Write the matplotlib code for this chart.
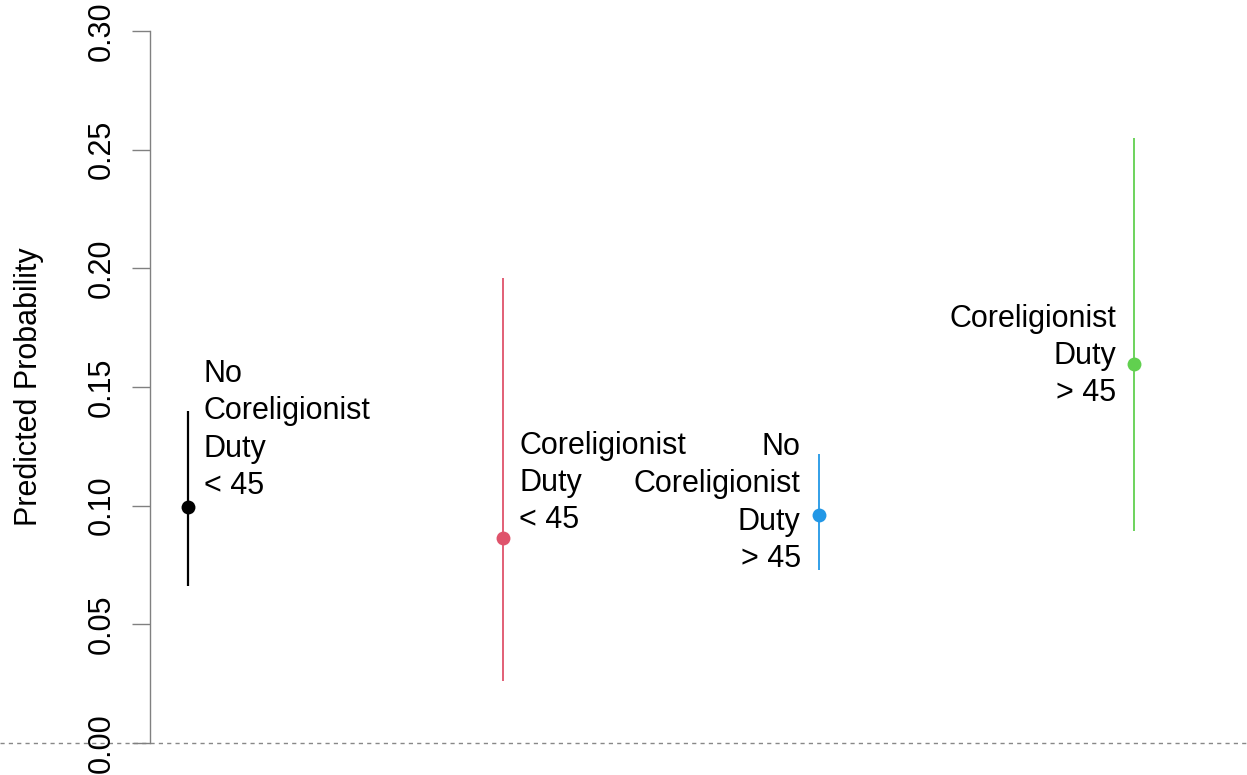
import matplotlib
matplotlib.use("Agg")
import matplotlib.pyplot as plt
import matplotlib.transforms as mtransforms

plt.rcParams['font.family'] = ['Liberation Sans', 'DejaVu Sans']

# data
groups = [1, 2, 3, 4]
estimates = [0.0995, 0.0864, 0.0961, 0.1597]
lower = [0.0662, 0.0261, 0.0729, 0.0893]
upper = [0.1399, 0.1960, 0.1218, 0.2550]
colors = ["#000000", "#DF536B", "#2297E6", "#61D04F"]
labels = ["No\nCoreligionist\nDuty\n< 45",
          "Coreligionist\nDuty\n< 45",
          "No\nCoreligionist\nDuty\n> 45",
          "Coreligionist\nDuty\n> 45"]
label_y = [0.1319, 0.1096, 0.1011, 0.1631]
label_side = ["right", "right", "left", "left"]
yticks = [0.00, 0.05, 0.10, 0.15, 0.20, 0.25, 0.30]
ytick_labels = ["0.00", "0.05", "0.10", "0.15", "0.20", "0.25", "0.30"]

W, H = 1247, 775
fig = plt.figure(figsize=(W / 100, H / 100), dpi=100)
ax = fig.add_axes([150 / W, 32 / H, (1172 - 150) / W, (743 - 31) / H])
ax.set_xlim(0.88, 4.12)
ax.set_ylim(0, 0.30)

for g, est, lo, hi, c, lab, ly, side in zip(groups, estimates, lower, upper,
                                             colors, labels, label_y, label_side):
    lw = 1.6 if c == "#000000" else 1.3
    ax.plot([g, g], [lo, hi], color=c, lw=lw, solid_capstyle='butt', zorder=2)
    ax.plot([g], [est], 'o', color=c, markersize=10, markeredgewidth=0, zorder=3)
    if side == "right":
        off = mtransforms.offset_copy(ax.transData, fig=fig, x=16, y=0, units='dots')
        ax.text(g, ly, lab, ha='left', va='center', fontsize=22, transform=off,
                linespacing=1.32, multialignment='left')
    else:
        off = mtransforms.offset_copy(ax.transData, fig=fig, x=-18, y=0, units='dots')
        ax.text(g, ly, lab, ha='right', va='center', fontsize=22, transform=off,
                linespacing=1.32, multialignment='right')

# dashed reference line at zero across the whole figure width
trans = mtransforms.blended_transform_factory(fig.transFigure, ax.transData)
ax.plot([0, 1], [0, 0], transform=trans, color='#888888', lw=1.0,
        linestyle=(0, (3, 3)), clip_on=False, zorder=1)

for s in ['top', 'right', 'bottom']:
    ax.spines[s].set_visible(False)
ax.spines['left'].set_color('#808080')
ax.spines['left'].set_linewidth(1.0)
ax.set_xticks([])
ax.set_yticks(yticks)
ax.set_yticklabels(ytick_labels, rotation=90, va='center', fontsize=22)
ax.tick_params(axis='y', length=13, width=1.0, color='#808080', pad=11)
ax.set_ylabel("Predicted Probability", fontsize=22, labelpad=31)

fig.savefig("out.png", dpi=100)
